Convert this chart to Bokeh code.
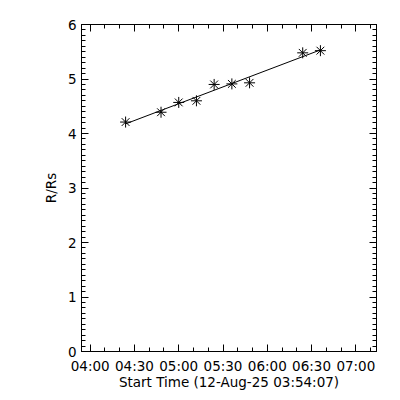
import numpy as np
from bokeh.plotting import figure
from bokeh.models import (Range1d, FixedTicker, SingleIntervalTicker, LinearAxis,
                          ColumnDataSource, CustomJSTickFormatter)
from bokeh.embed import file_html
from bokeh.resources import INLINE

# ---- data ----
times = ["04:24", "04:48", "05:00", "05:12", "05:24", "05:36", "05:48", "06:24", "06:36"]
heights = [4.21, 4.39, 4.57, 4.60, 4.90, 4.91, 4.93, 5.48, 5.52]
tick_labels = ["04:00", "04:30", "05:00", "05:30", "06:00", "06:30", "07:00"]
x_start = "03:54:07"
x_end = "07:14:00"
x_title = "Start Time (12-Aug-25 03:54:07)"
y_title = "R/Rs"


def to_min(s):
    parts = [int(v) for v in s.split(":")]
    while len(parts) < 3:
        parts.append(0)
    return parts[0] * 60 + parts[1] + parts[2] / 60.0


xm = [to_min(t) for t in times]
tick_pos = [to_min(t) for t in tick_labels]
minor_pos = list(np.arange(tick_pos[0], to_min(x_end), 10.0))

# linear fit line across the data span
coef = np.polyfit(xm, heights, 1)
fit_x = [xm[0], xm[-1]]
fit_y = list(np.polyval(coef, fit_x))

FONT = "DejaVu Sans"
FS = "13.5px"

p = figure(width=392, height=392, output_backend="svg", toolbar_location=None,
           x_range=Range1d(to_min(x_start), to_min(x_end)), y_range=Range1d(0, 6),
           min_border_left=81, min_border_right=16, min_border_top=24, min_border_bottom=41,
           x_axis_location=None, y_axis_location=None)
p.grid.visible = False
p.outline_line_color = "black"
p.background_fill_color = "white"
p.border_fill_color = "white"

xticker = FixedTicker(ticks=tick_pos, minor_ticks=minor_pos)
yticker = SingleIntervalTicker(interval=1, num_minor_ticks=10)
blank = CustomJSTickFormatter(code="return '';")


def style(ax):
    ax.axis_line_color = "black"
    ax.major_tick_line_color = "black"
    ax.minor_tick_line_color = "black"
    ax.major_tick_in = 7
    ax.major_tick_out = 0
    ax.minor_tick_in = 4
    ax.minor_tick_out = 0
    ax.major_label_text_font = FONT
    ax.major_label_text_font_size = FS
    ax.major_label_text_color = "black"
    ax.axis_label_text_font = FONT
    ax.axis_label_text_font_size = FS
    ax.axis_label_text_font_style = "normal"
    ax.axis_label_text_color = "black"


xb = LinearAxis(ticker=xticker, axis_label=x_title,
                major_label_overrides={tp: lab for tp, lab in zip(tick_pos, tick_labels)})
style(xb)
xb.major_label_standoff = 6
xb.axis_label_standoff = -3
p.add_layout(xb, "below")

xt = LinearAxis(ticker=xticker, formatter=blank)
style(xt)
xt.major_label_standoff = 0
p.add_layout(xt, "above")

yl = LinearAxis(ticker=yticker, axis_label=y_title)
style(yl)
yl.major_label_standoff = 5
yl.axis_label_standoff = 6
p.add_layout(yl, "left")

yr = LinearAxis(ticker=yticker, formatter=blank)
style(yr)
yr.major_label_standoff = 0
p.add_layout(yr, "right")

src = ColumnDataSource(dict(x=xm, y=heights))
p.line(fit_x, fit_y, line_color="black", line_width=1)
p.scatter("x", "y", source=src, marker="asterisk", size=11, line_color="black", line_width=1)

open("out.html", "w").write(file_html(p, INLINE))
